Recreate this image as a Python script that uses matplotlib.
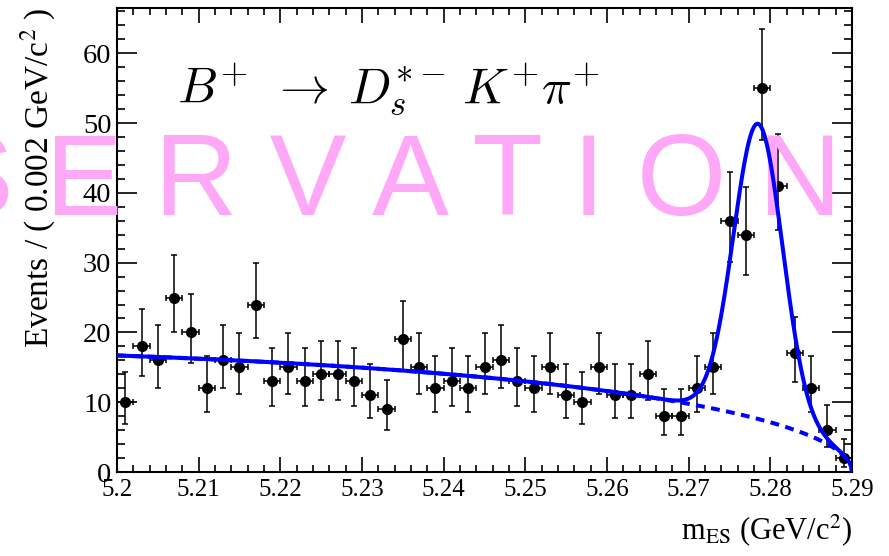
import numpy as np
import matplotlib
matplotlib.use("Agg")
import matplotlib.pyplot as plt
from matplotlib.ticker import MultipleLocator

# histogram: 45 bins of 2 MeV between 5.20 and 5.29 GeV/c^2
mes_lo, mes_hi, n_bins = 5.20, 5.29, 45
counts = [10, 18, 16, 25, 20, 12, 16, 15, 24, 13, 15, 13, 14, 14, 13,
          11, 9, 19, 15, 12, 13, 12, 15, 16, 13, 12, 15, 11, 10, 15,
          11, 11, 14, 8, 8, 12, 15, 36, 34, 55, 41, 17, 12, 6, 2]

# fit: ARGUS background + gaussian signal
argus_norm = 22.6
argus_m0 = 5.29
argus_c = -7.6
sig_mean = 5.2785
sig_sigma = 0.0030
sig_amp = 42.3

plt.rcParams["font.family"] = ["Liberation Serif", "DejaVu Serif"]
plt.rcParams["mathtext.fontset"] = "stix"


def argus(m):
    u = np.clip(1 - (m / argus_m0) ** 2, 0, None)
    return argus_norm * m * np.sqrt(u) * np.exp(argus_c * u)


def gauss(m):
    return sig_amp * np.exp(-0.5 * ((m - sig_mean) / sig_sigma) ** 2)


def poisson_errors(n):
    # Gehrels approximation of the 68% poisson interval
    n = np.asarray(n, dtype=float)
    up = np.sqrt(n + 0.75) + 1
    low = n - n * (1 - 1 / (9 * n) - 1 / (3 * np.sqrt(n))) ** 3
    return low, up


def main():
    width = (mes_hi - mes_lo) / n_bins
    centers = mes_lo + width * (np.arange(n_bins) + 0.5)
    err_lo, err_hi = poisson_errors(counts)

    fig = plt.figure(figsize=(8.89, 5.56), dpi=100)
    ax = fig.add_axes([117 / 889, 1 - 472 / 556, 735 / 889, 464 / 556])

    ax.errorbar(centers, counts, yerr=[err_lo, err_hi], xerr=width / 2,
                fmt="o", color="black", ms=7, elinewidth=1.1, capsize=2.2,
                capthick=1.1, zorder=5)

    m = np.linspace(mes_lo, mes_hi, 1000)
    ax.plot(m, argus(m), color="#0000ff", lw=2.9, ls=(0, (2.2, 1.6)), zorder=7)
    ax.plot(m, argus(m) + gauss(m), color="#0000ff", lw=2.9, zorder=8)

    ax.set_xlim(mes_lo, mes_hi)
    ax.set_ylim(0, 66.5)
    ax.xaxis.set_major_locator(MultipleLocator(0.01))
    ax.xaxis.set_minor_locator(MultipleLocator(0.002))
    ax.yaxis.set_major_locator(MultipleLocator(10))
    ax.yaxis.set_minor_locator(MultipleLocator(2))
    ax.xaxis.set_major_formatter(plt.FuncFormatter(lambda v, p: f"{v:g}"))
    ax.tick_params(which="both", direction="in", top=True, right=True, width=1.2)
    ax.tick_params(axis="x", which="major", length=11, pad=5, labelsize=18)
    ax.tick_params(axis="x", which="minor", length=5)
    ax.tick_params(axis="y", which="major", length=14.5, pad=4, labelsize=20.5)
    ax.tick_params(axis="y", which="minor", length=6)
    for s in ax.spines.values():
        s.set_linewidth(1.5)

    ax.set_ylabel(r"Events / ( 0.002 GeV/c$^{2}$ )", fontsize=24,
                  loc="top", labelpad=18)
    ax.set_xlabel(r"m$_{\mathrm{ES}}$ (GeV/c$^{2}$)", fontsize=22,
                  loc="right", labelpad=8)

    fig.text(177 / 889, 1 - 103 / 556,
             r"$B^{+}\;\,\rightarrow\:D_{s}^{*-}\,K^{+}\pi^{+}$",
             fontsize=36, math_fontfamily="cm", va="baseline", ha="left")

    # watermark: above the points and tick labels, below the fit curves
    ax.text(0.308, 1 - 215 / 556, "O B S E R V A T I O N", fontsize=83,
            family="Liberation Sans", color="#ffa8f7", ha="center",
            va="baseline", transform=fig.transFigure, clip_on=False, zorder=6)

    fig.savefig("out.png", dpi=100)


if __name__ == "__main__":
    main()
